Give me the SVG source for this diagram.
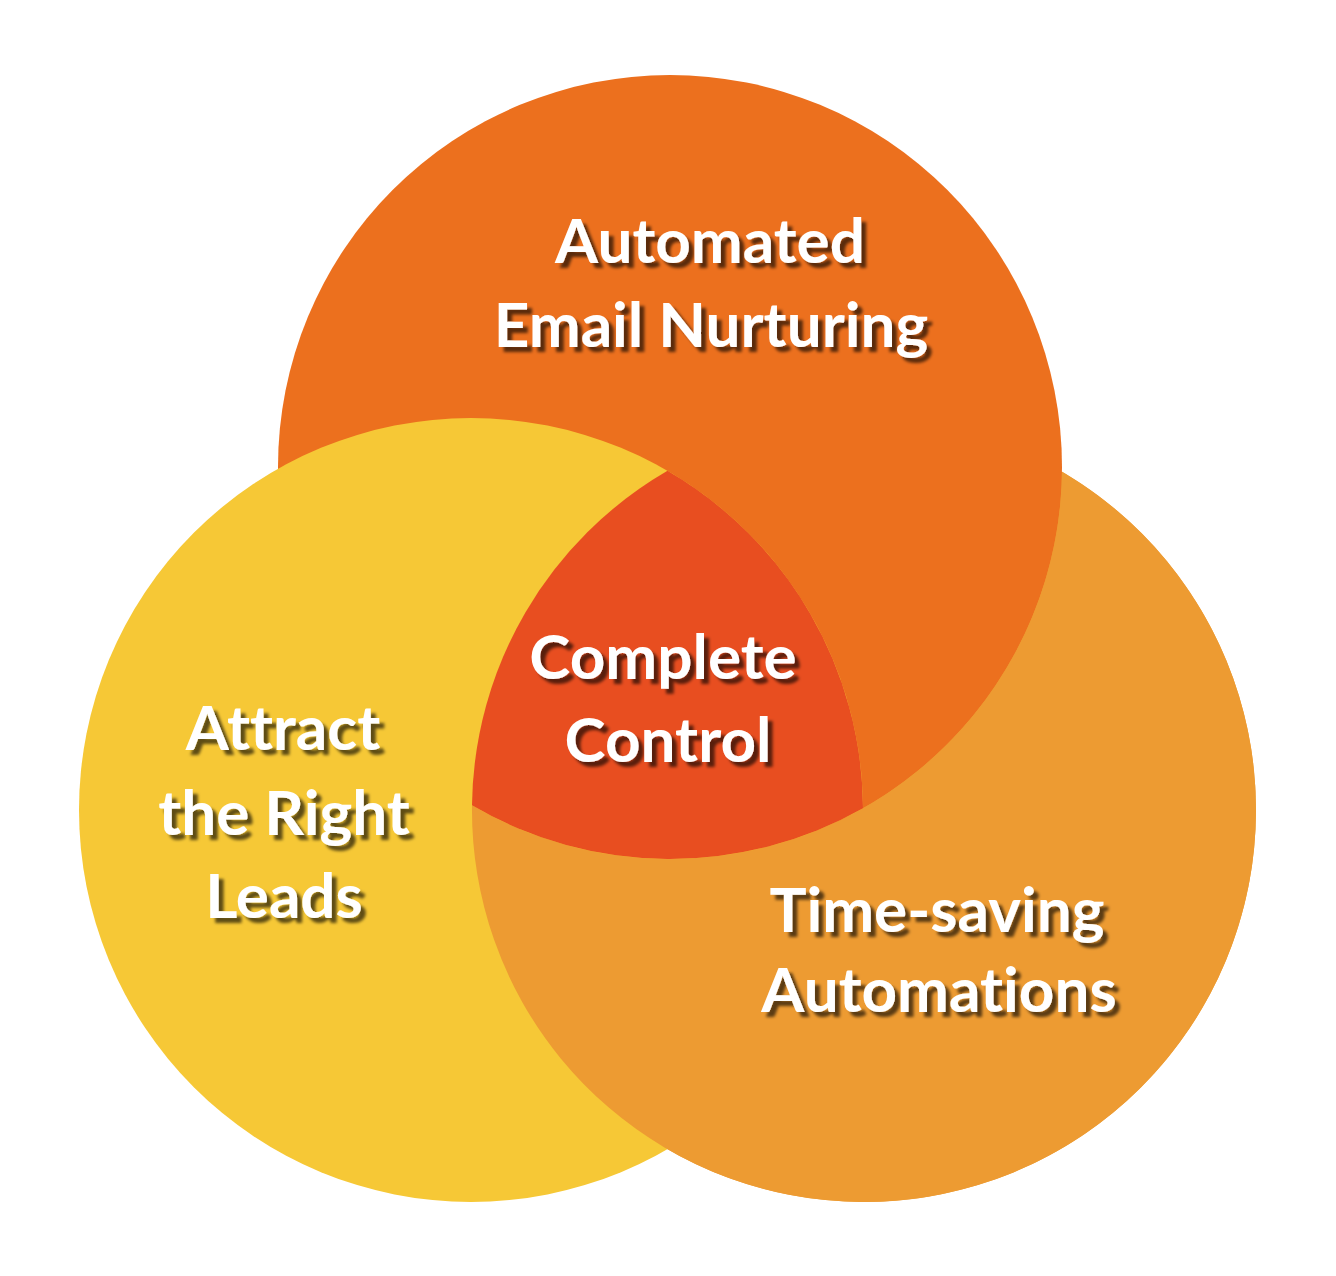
<svg xmlns="http://www.w3.org/2000/svg" width="1336" height="1276" viewBox="0 0 1336 1276">
<defs>
<style>
.lbl{font-family:Lato,"Open Sans","DejaVu Sans",sans-serif;font-weight:700;font-size:62px;fill:#ffffff;text-anchor:middle;font-variant-ligatures:none;font-feature-settings:"liga" 0;filter:url(#sh)}
</style>
<filter id="sh" x="-10%" y="-20%" width="130%" height="160%">
<feDropShadow dx="5" dy="5" stdDeviation="1.5" flood-color="#000000" flood-opacity="0.62"/>
</filter>
</defs>
<rect width="1336" height="1276" fill="#ffffff"/>
<g id="circle-right"><circle cx="864" cy="810" r="392" fill="#ED9B32"/></g>
<g id="circle-top"><circle cx="670" cy="467" r="392" fill="#EC701E"/></g>
<g id="circle-left"><circle cx="471" cy="810" r="392" fill="#F6C836"/></g>
<g id="circle-right-front"><path d="M472,805.3 A392,392 0 1 0 1062,471.7 A392,392 0 0 1 472,805.3 Z" fill="#ED9B32"/></g>
<g id="center"><path d="M667.5,470.8 A392,392 0 0 1 863,808.2 A392,392 0 0 1 472,805.3 A392,392 0 0 1 667.5,470.8 Z" fill="#E84E20"/></g>
<g id="connectors"></g>
<g id="label-top"><text class="lbl" x="710" y="263">Automated</text><text class="lbl" x="711" y="347">Email Nurturing</text></g>
<g id="label-center"><text class="lbl" x="663" y="679">Complete</text><text class="lbl" x="668" y="762">Control</text></g>
<g id="label-left"><text class="lbl" x="283" y="750">Attract</text><text class="lbl" x="284" y="835">the Right</text><text class="lbl" x="284" y="918">Leads</text></g>
<g id="label-right"><text class="lbl" x="937" y="932">Time-saving</text><text class="lbl" x="939" y="1012">Automations</text></g>
</svg>
